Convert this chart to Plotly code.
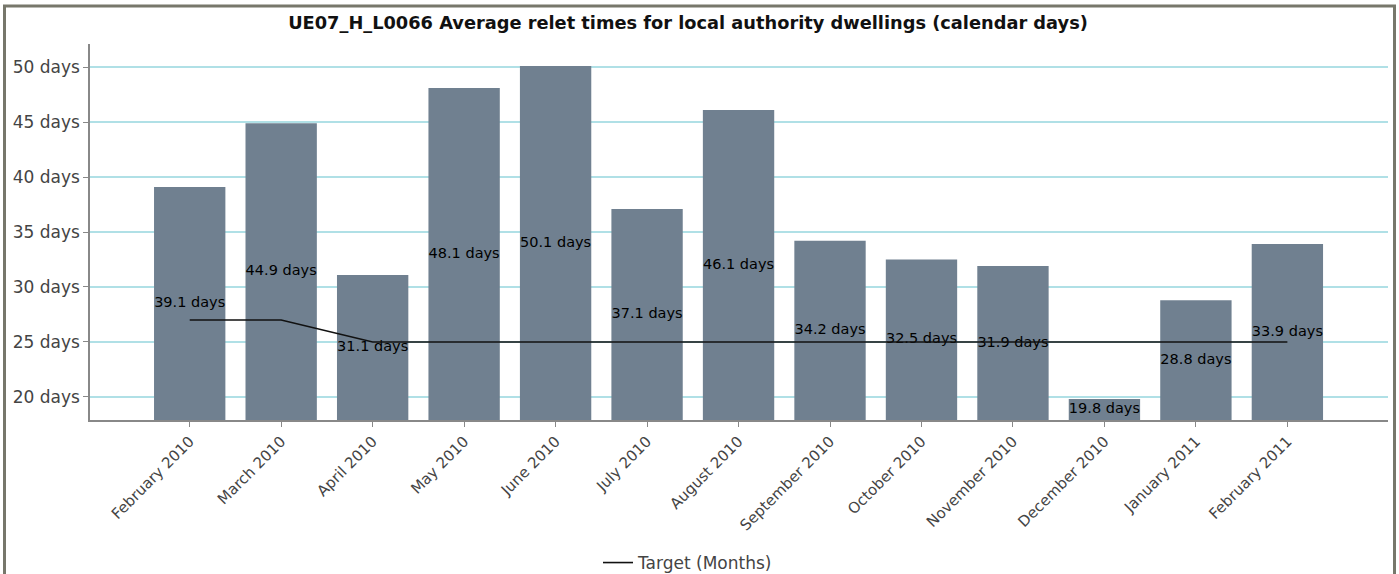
import plotly.graph_objects as go

months = ["February 2010", "March 2010", "April 2010", "May 2010", "June 2010",
          "July 2010", "August 2010", "September 2010", "October 2010",
          "November 2010", "December 2010", "January 2011", "February 2011"]
relet_days = [39.1, 44.9, 31.1, 48.1, 50.1, 37.1, 46.1, 34.2, 32.5, 31.9, 19.8, 28.8, 33.9]
target = [27, 27, 25, 25, 25, 25, 25, 25, 25, 25, 25, 25, 25]
y_ticks = [20, 25, 30, 35, 40, 45, 50]
y_tick_labels = [f"{v} days" for v in y_ticks]

FONT = "DejaVu Sans"
W, H = 1399, 574
L, R, T, B = 90, 11, 44, 154
pw, ph = W - L - R, H - T - B
Y_MIN, Y_MAX = 17.9, 52.1

fig = go.Figure()
fig.add_trace(go.Bar(
    x=months, y=relet_days,
    marker=dict(color="#708090", line=dict(width=0)),
    width=0.78, showlegend=False, hoverinfo="x+y",
))
# value labels, centred in the visible part of each bar
fig.add_trace(go.Scatter(
    x=months, y=[(Y_MIN + v) / 2 for v in relet_days], mode="text",
    text=[f"{v} days" for v in relet_days], textposition="middle center",
    textfont=dict(family=FONT, size=14.5, color="#000000"),
    showlegend=False, hoverinfo="skip", cliponaxis=False,
))
fig.add_trace(go.Scatter(
    x=months, y=target, mode="lines", name="Target (Months)",
    line=dict(color="#111111", width=1.6),
))

def px(x):
    return (x - L) / pw

def py(y):
    return 1 - (y - T) / ph

fig.update_layout(
    width=W, height=H,
    margin=dict(l=L, r=R, t=T, b=B, autoexpand=False),
    paper_bgcolor="white", plot_bgcolor="white",
    font=dict(family=FONT, color="#444444"),
    title=dict(text="<b>UE07_H_L0066 Average relet times for local authority dwellings (calendar days)</b>",
               x=688 / W, xanchor="center", xref="container", y=1 - 23 / H, yanchor="middle",
               yref="container",
               font=dict(family=FONT, size=17.8, color="#111111")),
    xaxis=dict(range=[-1.09, 13.1], tickangle=-45, showgrid=False,
               showline=True, linecolor="#888888", linewidth=1.5,
               ticks="outside", ticklen=5, tickcolor="#888888",
               tickfont=dict(family=FONT, size=15, color="#444444")),
    yaxis=dict(range=[Y_MIN, Y_MAX], tickvals=y_ticks, ticktext=y_tick_labels,
               showgrid=True, gridcolor="#b0e0e6", gridwidth=1.5,
               showline=True, linecolor="#888888", linewidth=1.5,
               ticks="outside", ticklen=5, tickcolor="#888888",
               zeroline=False,
               tickfont=dict(family=FONT, size=17, color="#444444")),
    legend=dict(orientation="h", xref="container", yref="container",
                x=688 / W, xanchor="center", y=1 - 563 / H, yanchor="middle",
                font=dict(family=FONT, size=17, color="#444444"), bgcolor="rgba(0,0,0,0)"),
    shapes=[dict(type="rect", xref="paper", yref="paper",
                 x0=px(4.5), x1=px(1394.5), y0=py(600), y1=py(6),
                 line=dict(color="#77776b", width=3), fillcolor="rgba(0,0,0,0)", layer="above")],
)

fig.write_html("out.html", config={"displayModeBar": False},
               post_script="document.body.style.margin='0';document.body.style.overflow='hidden';")
